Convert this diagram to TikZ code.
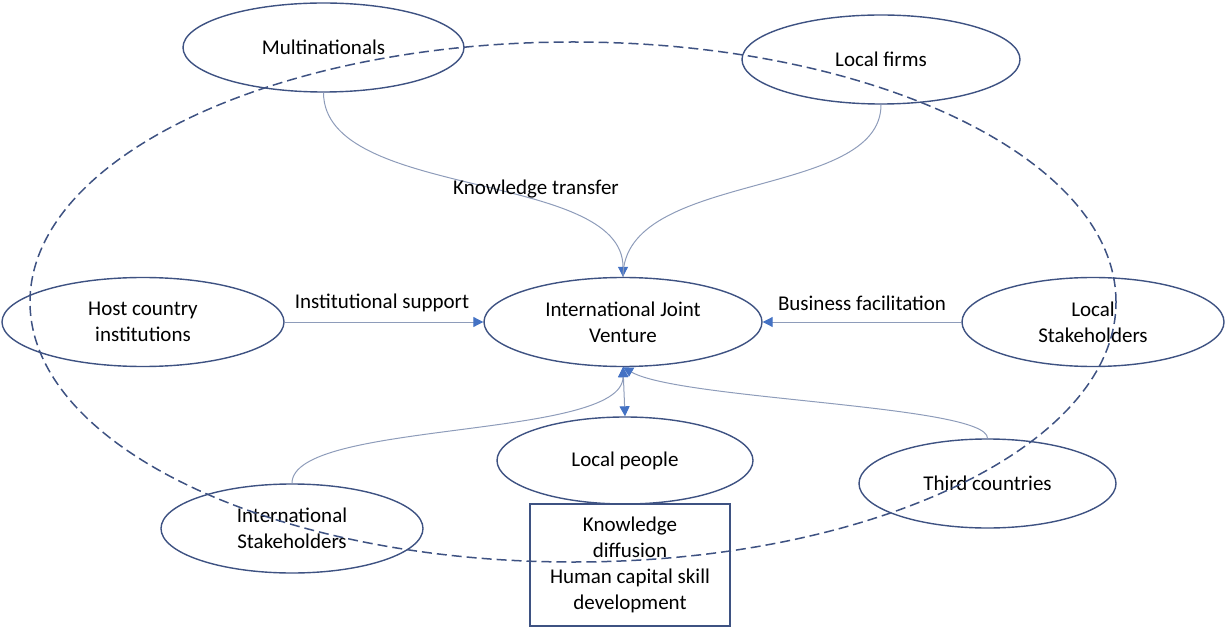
\documentclass[tikz,border=0pt]{standalone}
\usepackage{fontspec}
\setmainfont{Carlito}
\usetikzlibrary{shapes.geometric,arrows.meta}
\definecolor{outline}{HTML}{3E5282}
\definecolor{linkgray}{HTML}{8E9CBA}
\definecolor{tipblue}{HTML}{4472C4}
\begin{document}
\begin{tikzpicture}[x=1pt,y=-1pt,
  every node/.style={font=\fontsize{21}{26}\selectfont, text=black},
  actor/.style={ellipse, draw=outline, line width=1.4pt, align=center, inner sep=0pt},
  outcome/.style={rectangle, draw=outline, line width=1.2pt, align=center, inner sep=0pt},
  link/.style={draw=linkgray, line width=1pt},
  flow/.style={link, -{Triangle[length=10pt,width=10pt,color=tipblue]}},
  twoway/.style={link, {Triangle[length=10pt,width=10pt,color=tipblue]}-{Triangle[length=10pt,width=10pt,color=tipblue]}},
  lbl/.style={inner sep=1pt}]
\useasboundingbox (0,0) rectangle (1228,628);

% actors around the joint venture
\node[actor, minimum width=281pt, minimum height=89pt] (mnc) at (323.5,47.5) {Multinationals};
\node[actor, minimum width=278pt, minimum height=89pt] (firms) at (881,59.5) {Local firms};
\node[actor, minimum width=282pt, minimum height=89pt] (host) at (143,322) {Host country\\institutions};
\node[actor, minimum width=278pt, minimum height=89pt] (ijv) at (623,322) {International Joint\\Venture};
\node[actor, minimum width=262pt, minimum height=89pt] (lstake) at (1093,322) {Local\\Stakeholders};
\node[actor, minimum width=256pt, minimum height=87pt] (people) at (625,460.5) {Local people};
\node[actor, minimum width=262pt, minimum height=89pt] (istake) at (292,528.5) {International\\Stakeholders};
\node[actor, minimum width=257pt, minimum height=89pt] (third) at (987.5,483.5) {Third countries};
\node[outcome, minimum width=200pt, minimum height=122pt] (diff) at (630,565) {Knowledge\\diffusion\\Human capital skill\\development};

% host-country boundary
\draw[outline, line width=1.5pt, dash pattern=on 10pt off 5pt] (573,302) ellipse [x radius=543pt, y radius=260pt];

% flows into the joint venture
\draw[flow] (mnc.south) .. controls (324,200) and (623,170) .. (ijv.north);
\draw[link] (firms.south) .. controls (881,200) and (623,170) .. (ijv.north);
\node[lbl] (kt) at (536,189) {Knowledge transfer};

\draw[flow] (host.east) -- (ijv.west);
\node[lbl] (is) at (382,303) {Institutional support};

\draw[flow] (lstake.west) -- (ijv.east);
\node[lbl] (bf) at (862,303) {Business facilitation};

\draw[flow] (istake.north) .. controls (292,420) and (623,440) .. (ijv.south);
\draw[flow] (third.north) .. controls (988,405) and (680,400) .. (ijv.south);
\draw[twoway] (ijv.south) -- (people.north);
\end{tikzpicture}
\end{document}
